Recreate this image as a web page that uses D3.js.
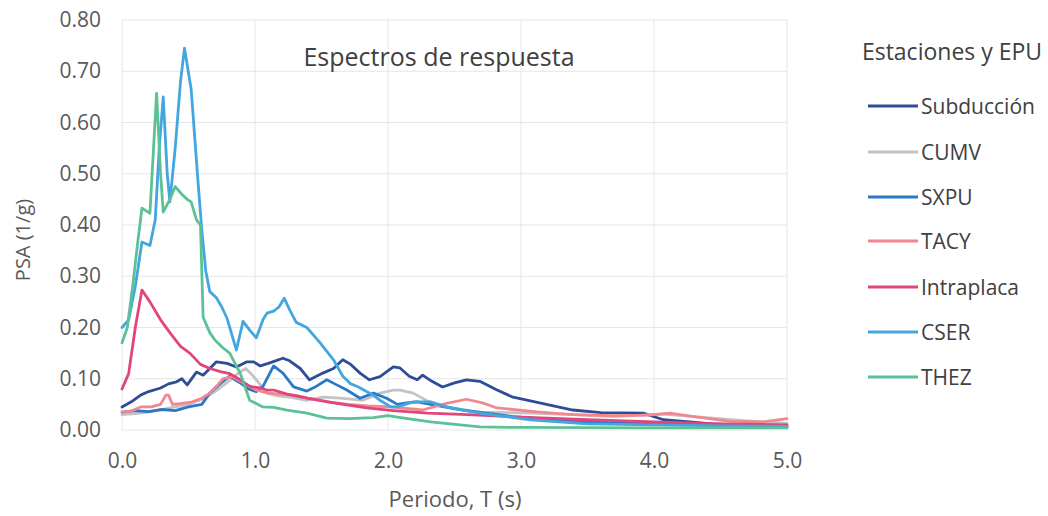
<!DOCTYPE html>
<html>
<head>
<meta charset="utf-8">
<script src="https://cdn.jsdelivr.net/npm/d3@7/dist/d3.min.js"></script>
<style>
  html, body { margin: 0; padding: 0; background: #fff; }
  svg { display: block; font-family: "Open Sans", "Noto Sans", sans-serif; }
</style>
</head>
<body>
<svg id="chart" width="1048" height="516"></svg>
<script>
// Response spectra: period T (s) vs PSA (1/g), one [T, PSA] list per station / event
const subduccion = [[0,0.045],[0.07,0.055],[0.14,0.068],[0.2,0.075],[0.29,0.082],[0.35,0.09],[0.41,0.094],[0.45,0.1],[0.49,0.088],[0.56,0.113],[0.61,0.107],[0.66,0.12],[0.71,0.133],[0.79,0.13],[0.86,0.123],[0.94,0.133],[0.99,0.133],[1.04,0.125],[1.1,0.13],[1.21,0.14],[1.26,0.135],[1.34,0.12],[1.41,0.098],[1.51,0.111],[1.59,0.12],[1.66,0.137],[1.72,0.128],[1.79,0.111],[1.86,0.098],[1.94,0.104],[2.04,0.123],[2.09,0.121],[2.16,0.105],[2.22,0.098],[2.26,0.107],[2.33,0.095],[2.41,0.084],[2.5,0.092],[2.59,0.098],[2.69,0.095],[2.82,0.078],[2.94,0.064],[3.14,0.053],[3.39,0.039],[3.6,0.034],[3.92,0.033],[4.07,0.02],[4.44,0.012],[5.0,0.006]];
const cumv = [[0,0.03],[0.1,0.032],[0.2,0.035],[0.3,0.04],[0.4,0.045],[0.5,0.05],[0.6,0.06],[0.7,0.075],[0.8,0.095],[0.87,0.11],[0.93,0.12],[0.97,0.11],[1.01,0.098],[1.09,0.072],[1.18,0.066],[1.26,0.064],[1.39,0.058],[1.51,0.064],[1.64,0.062],[1.81,0.058],[1.94,0.072],[2.04,0.078],[2.09,0.078],[2.19,0.072],[2.32,0.053],[2.5,0.042],[2.69,0.035],[3.07,0.033],[3.4,0.03],[3.69,0.026],[4.07,0.031],[4.44,0.023],[4.7,0.018],[5.0,0.013]];
const sxpu = [[0,0.035],[0.1,0.038],[0.2,0.036],[0.3,0.04],[0.4,0.038],[0.5,0.045],[0.6,0.05],[0.66,0.072],[0.76,0.095],[0.81,0.105],[0.85,0.098],[0.9,0.09],[0.95,0.08],[1.01,0.075],[1.06,0.085],[1.14,0.125],[1.21,0.111],[1.29,0.084],[1.39,0.076],[1.46,0.085],[1.54,0.098],[1.6,0.09],[1.69,0.078],[1.79,0.062],[1.89,0.072],[1.99,0.062],[2.07,0.05],[2.14,0.053],[2.22,0.055],[2.34,0.049],[2.56,0.039],[2.94,0.026],[3.44,0.016],[4.0,0.012],[4.5,0.01],[5.0,0.008]];
const tacy = [[0,0.035],[0.07,0.037],[0.14,0.045],[0.22,0.045],[0.29,0.05],[0.33,0.068],[0.35,0.068],[0.38,0.05],[0.45,0.052],[0.53,0.055],[0.6,0.062],[0.66,0.072],[0.72,0.088],[0.76,0.1],[0.83,0.104],[0.91,0.092],[1.01,0.078],[1.1,0.072],[1.2,0.07],[1.3,0.068],[1.4,0.062],[1.55,0.055],[1.7,0.05],[1.85,0.047],[2.02,0.045],[2.26,0.039],[2.44,0.052],[2.59,0.06],[2.71,0.053],[2.82,0.043],[3.14,0.035],[3.39,0.03],[3.7,0.028],[3.95,0.029],[4.12,0.033],[4.3,0.026],[4.57,0.017],[4.82,0.016],[5.0,0.022]];
const intraplaca = [[0,0.08],[0.05,0.11],[0.1,0.2],[0.15,0.273],[0.21,0.25],[0.29,0.215],[0.36,0.19],[0.44,0.163],[0.51,0.15],[0.59,0.128],[0.66,0.12],[0.74,0.114],[0.81,0.11],[0.89,0.098],[0.96,0.085],[1.04,0.082],[1.09,0.078],[1.14,0.078],[1.24,0.07],[1.39,0.062],[1.59,0.053],[1.84,0.043],[2.04,0.038],[2.3,0.033],[2.6,0.03],[3.0,0.025],[3.5,0.02],[4.0,0.016],[4.5,0.012],[5.0,0.01]];
const cser = [[0,0.2],[0.05,0.215],[0.1,0.28],[0.15,0.367],[0.21,0.36],[0.25,0.41],[0.28,0.55],[0.31,0.65],[0.34,0.5],[0.36,0.445],[0.4,0.55],[0.44,0.68],[0.47,0.745],[0.52,0.665],[0.57,0.49],[0.6,0.39],[0.63,0.31],[0.66,0.27],[0.71,0.258],[0.75,0.24],[0.79,0.218],[0.86,0.156],[0.91,0.212],[0.96,0.195],[1.01,0.18],[1.06,0.215],[1.09,0.228],[1.14,0.232],[1.18,0.24],[1.22,0.257],[1.26,0.235],[1.31,0.21],[1.39,0.2],[1.49,0.17],[1.59,0.137],[1.66,0.105],[1.72,0.09],[1.77,0.085],[1.89,0.068],[1.94,0.058],[2.02,0.045],[2.07,0.045],[2.19,0.055],[2.32,0.055],[2.44,0.045],[2.69,0.033],[3.07,0.02],[3.5,0.012],[4.0,0.01],[4.5,0.008],[5.0,0.007]];
const thez = [[0,0.17],[0.04,0.2],[0.08,0.28],[0.12,0.37],[0.15,0.433],[0.21,0.423],[0.26,0.657],[0.29,0.5],[0.31,0.425],[0.36,0.45],[0.4,0.475],[0.45,0.46],[0.49,0.45],[0.52,0.445],[0.56,0.41],[0.59,0.4],[0.61,0.22],[0.66,0.19],[0.7,0.175],[0.76,0.16],[0.81,0.15],[0.89,0.11],[0.96,0.058],[1.06,0.045],[1.14,0.044],[1.24,0.039],[1.39,0.033],[1.54,0.023],[1.71,0.022],[1.89,0.024],[2.0,0.028],[2.07,0.025],[2.32,0.016],[2.69,0.006],[3.0,0.005],[4.0,0.004],[5.0,0.004]];

const seriesNames = ["Subducción", "CUMV", "SXPU", "TACY", "Intraplaca", "CSER", "THEZ"];
const seriesValues = [subduccion, cumv, sxpu, tacy, intraplaca, cser, thez];
const seriesColors = ["#2f4c98", "#c3c3c3", "#2a79c9", "#f2878f", "#e0457d", "#44a6df", "#5cc195"];

const xTicks = [0, 1, 2, 3, 4, 5];
const yTicks = [0, 0.1, 0.2, 0.3, 0.4, 0.5, 0.6, 0.7, 0.8];

const svg = d3.select("#chart");
const plot = { left: 122, right: 787, top: 20, bottom: 430 };

const x = d3.scaleLinear().domain([0, 5]).range([plot.left, plot.right]);
const y = d3.scaleLinear().domain([0, 0.8]).range([plot.bottom, plot.top]);

// grid
const grid = svg.append("g");
grid.selectAll("line.h").data(yTicks).join("line")
  .attr("x1", plot.left).attr("x2", plot.right)
  .attr("y1", d => y(d)).attr("y2", d => y(d))
  .attr("stroke", "#e6e6e6").attr("stroke-width", 1);
grid.selectAll("line.v").data(xTicks).join("line")
  .attr("y1", plot.top).attr("y2", plot.bottom)
  .attr("x1", d => x(d)).attr("x2", d => x(d))
  .attr("stroke", "#e6e6e6").attr("stroke-width", 1);

// axes (labels only, no domain line)
const yAxis = d3.axisLeft(y).tickValues(yTicks).tickFormat(d3.format(".2f")).tickSize(0).tickPadding(21);
svg.append("g").attr("transform", `translate(${plot.left},0)`).call(yAxis)
  .call(g => g.select(".domain").remove())
  .selectAll("text").attr("font-size", 21).attr("fill", "#595959")
  .attr("font-family", "'Open Sans', sans-serif");

const xAxis = d3.axisBottom(x).tickValues(xTicks).tickFormat(d3.format(".1f")).tickSize(0).tickPadding(23);
svg.append("g").attr("transform", `translate(0,${plot.bottom})`).call(xAxis)
  .call(g => g.select(".domain").remove())
  .selectAll("text").attr("font-size", 21).attr("fill", "#595959")
  .attr("font-family", "'Open Sans', sans-serif");

// series lines
const line = d3.line().x(d => x(d[0])).y(d => y(d[1]));
const lines = svg.append("g").attr("fill", "none").attr("stroke-linejoin", "round").attr("stroke-linecap", "round");
seriesValues.forEach((vals, i) => {
  lines.append("path").datum(vals)
    .attr("d", line)
    .attr("stroke", seriesColors[i])
    .attr("stroke-width", 2.8);
});

// titles
svg.append("text").attr("x", 439).attr("y", 66).attr("text-anchor", "middle")
  .attr("font-size", 25).attr("fill", "#404040").text("Espectros de respuesta");
svg.append("text").attr("transform", "translate(30,240) rotate(-90)").attr("text-anchor", "middle")
  .attr("font-size", 20).attr("fill", "#595959").text("PSA (1/g)");
svg.append("text").attr("x", 455).attr("y", 507).attr("text-anchor", "middle")
  .attr("font-size", 22).attr("fill", "#595959").text("Periodo, T (s)");

// legend
svg.append("text").attr("x", 952).attr("y", 60).attr("text-anchor", "middle")
  .attr("font-size", 23).attr("fill", "#404040").text("Estaciones y EPU");
const legendRows = [106, 152, 197, 241, 287, 332, 377];
const legend = svg.append("g");
seriesNames.forEach((name, i) => {
  const ly = legendRows[i];
  legend.append("line").attr("x1", 868).attr("x2", 918).attr("y1", ly).attr("y2", ly)
    .attr("stroke", seriesColors[i]).attr("stroke-width", 2.8);
  legend.append("text").attr("x", 921).attr("y", ly + 7.5)
    .attr("font-size", 21).attr("fill", "#404040").text(name);
});
</script>
</body>
</html>
